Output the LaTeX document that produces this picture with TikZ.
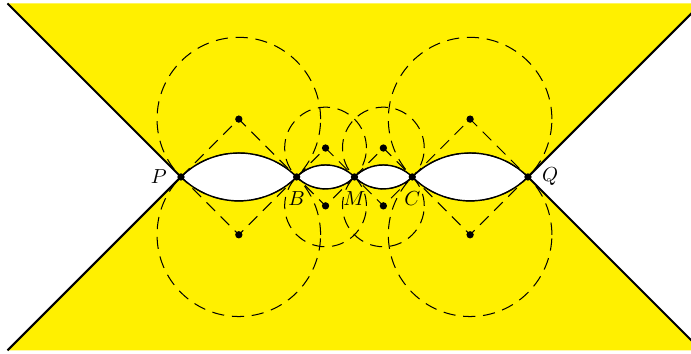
\documentclass[tikz,border=0pt]{standalone}
\usetikzlibrary{positioning}
\definecolor{hyperyellow}{RGB}{255,240,0}
\begin{document}
\begin{tikzpicture}[
        dot/.style={circle, fill=black, inner sep=0pt, minimum size=3.6pt},
        wedge/.style={line width=1pt, black},
        lens/.style={fill=white, draw=black, line width=0.7pt},
        guide/.style={dash pattern=on 6pt off 3.8pt, black, line width=0.5pt},
        label distance=1.5pt
    ]
    \useasboundingbox (-6.13,-3.06) rectangle (5.82,3.06);
    \clip (-6.13,-3.06) rectangle (5.82,3.06);

    % points on the axis
    \coordinate (P) at (-3,0);
    \coordinate (B) at (-1,0);
    \coordinate (M) at (0,0);
    \coordinate (C) at (1,0);
    \coordinate (Q) at (3,0);
    % centres of the circles
    \coordinate (PBu) at (-2,1);
    \coordinate (PBd) at (-2,-1);
    \coordinate (BMu) at (-0.5,0.5);
    \coordinate (BMd) at (-0.5,-0.5);
    \coordinate (MCu) at (0.5,0.5);
    \coordinate (MCd) at (0.5,-0.5);
    \coordinate (CQu) at (2,1);
    \coordinate (CQd) at (2,-1);
    % corners
    \coordinate (TL) at (-6,3);
    \coordinate (BL) at (-6,-3);
    \coordinate (TR) at (6,3);
    \coordinate (BR) at (6,-3);

    % Yellow region
    \fill[hyperyellow] (TL) -- (TR) -- (Q) -- (BR) -- (BL) -- (P) -- cycle;

    % White lenses
    \foreach \a/\r in {P/1.4142, B/0.7071, M/0.7071, C/1.4142}
        \draw[lens] (\a) arc[start angle=135, end angle=45, radius=\r]
            arc[start angle=-45, end angle=-135, radius=\r] -- cycle;

    % Dashed circles
    \foreach \c/\r in {PBu/1.4142, PBd/1.4142, BMu/0.7071, BMd/0.7071,
                       MCu/0.7071, MCd/0.7071, CQu/1.4142, CQd/1.4142}
        \draw[guide] (\c) circle[radius=\r];

    % Dashed squares
    \foreach \a/\b/\u/\d in {P/B/PBu/PBd, B/M/BMu/BMd, M/C/MCu/MCd, C/Q/CQu/CQd}
        \draw[guide] (\a) -- (\u) -- (\b) -- (\d) -- cycle;

    % Boundary lines
    \draw[wedge] (TL) -- (P) -- (BL);
    \draw[wedge] (TR) -- (Q) -- (BR);

    % Dots
    \node[dot, label=left:$P$] (dP) at (P) {};
    \node[dot, label=below:$B$] (dB) at (B) {};
    \node[dot, label=below:$M$] (dM) at (M) {};
    \node[dot, label=below:$C$] (dC) at (C) {};
    \node[dot, label=right:$Q$] (dQ) at (Q) {};
    \foreach \c in {PBu, PBd, BMu, BMd, MCu, MCd, CQu, CQd}
        \node[dot] (d\c) at (\c) {};
\end{tikzpicture}
\end{document}
